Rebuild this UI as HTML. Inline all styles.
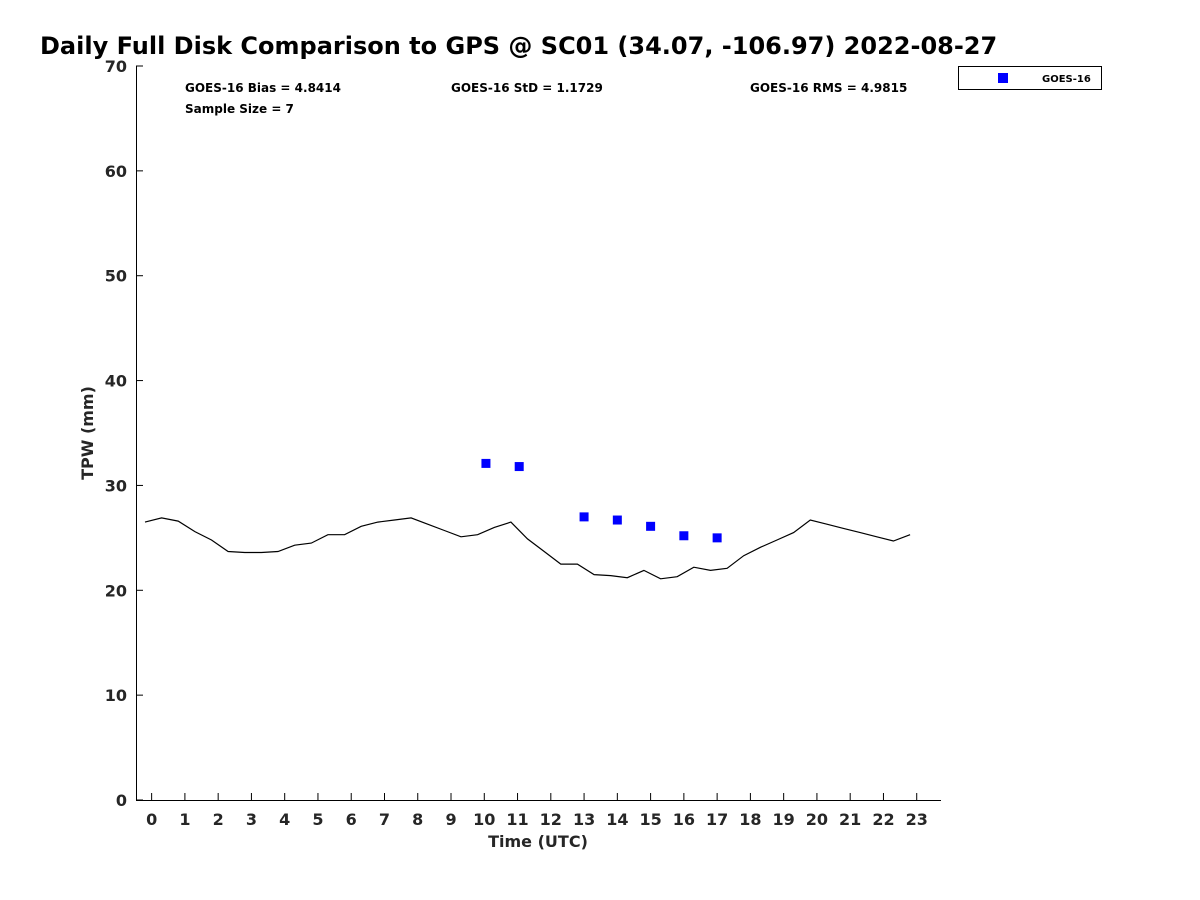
<!DOCTYPE html>
<html><head><meta charset="utf-8"><style>
body{margin:0;background:#fff;}
svg{display:block;font-family:"DejaVu Sans","Liberation Sans",sans-serif;}
</style></head><body>
<svg id="chart" width="1200" height="900">
<text x="40" y="54" font-size="24" font-weight="bold" fill="#000">Daily Full Disk Comparison to GPS @ SC01 (34.07, -106.97) 2022-08-27</text>
<g id="axes"></g>
<g id="marks"></g>
<text x="185" y="92" font-size="12" font-weight="bold" fill="#000">GOES-16 Bias = 4.8414</text>
<text x="451" y="92" font-size="12" font-weight="bold" fill="#000">GOES-16 StD = 1.1729</text>
<text x="750" y="92" font-size="12" font-weight="bold" fill="#000">GOES-16 RMS = 4.9815</text>
<text x="185" y="113" font-size="12" font-weight="bold" fill="#000">Sample Size = 7</text>
<g>
<rect x="958.5" y="66.5" width="143" height="23" fill="#fff" stroke="#000" stroke-width="1"/>
<rect x="998" y="73" width="10" height="10" fill="#0000ff"/>
<text x="1042" y="82" font-size="10" font-weight="bold" fill="#000">GOES-16</text>
</g>
</svg>
<script>
const gpsTimes=[-0.2,0.3,0.8,1.3,1.8,2.3,2.8,3.3,3.8,4.3,4.8,5.3,5.8,6.3,6.8,7.3,7.8,8.3,8.8,9.3,9.8,10.3,10.8,11.3,11.8,12.3,12.8,13.3,13.8,14.3,14.8,15.3,15.8,16.3,16.8,17.3,17.8,18.3,18.8,19.3,19.8,20.3,20.8,21.3,21.8,22.3,22.8];
const gpsValues=[26.5,26.9,26.6,25.6,24.8,23.7,23.6,23.6,23.7,24.3,24.5,25.3,25.3,26.1,26.5,26.7,26.9,26.3,25.7,25.1,25.3,26.0,26.5,24.9,23.7,22.5,22.5,21.5,21.4,21.2,21.9,21.1,21.3,22.2,21.9,22.1,23.3,24.1,24.8,25.5,26.7,26.3,25.9,25.5,25.1,24.7,25.3];
const goesTimes=[10.05,11.05,13,14,15,16,17];
const goesValues=[32.1,31.8,27.0,26.7,26.1,25.2,25.0];
const xTicks=[0,1,2,3,4,5,6,7,8,9,10,11,12,13,14,15,16,17,18,19,20,21,22,23];
const yTicks=[0,10,20,30,40,50,60,70];

const L=136,R=941,T=66,B=800,xMin=-0.47,xMax=23.73,yMin=0,yMax=70;
const X=v=>L+(v-xMin)/(xMax-xMin)*(R-L);
const Y=v=>B-(v-yMin)/(yMax-yMin)*(B-T);
const NS='http://www.w3.org/2000/svg';
function mk(tag,attrs,parent){const e=document.createElementNS(NS,tag);for(const k in attrs)e.setAttribute(k,attrs[k]);parent.appendChild(e);return e;}
const axes=document.getElementById('axes'),marks=document.getElementById('marks');
let e=mk('path',{d:`M${L+0.5},${T}V${B+0.5}H${R}`,fill:'none',stroke:'#000','stroke-width':1},axes);


xTicks.forEach(t=>{
  const x=X(t);
  let l=mk('line',{x1:x,x2:x,y1:B,y2:B-7,stroke:'#000'},axes);
  
  
  let tx=mk('text',{x:x,y:B+25,'text-anchor':'middle','font-size':16,'font-weight':'bold',fill:'#262626'},axes);
  tx.textContent=t;
  
  
});
yTicks.forEach(t=>{
  const y=Y(t);
  let l=mk('line',{x1:L,x2:L+7,y1:y,y2:y,stroke:'#000'},axes);
  
  
  let tx=mk('text',{x:L-9,y:y+6,'text-anchor':'end','font-size':16,'font-weight':'bold',fill:'#262626'},axes);
  tx.textContent=t;
  
  
});
let xt=mk('text',{x:538,y:847,'text-anchor':'middle','font-size':16,'font-weight':'bold',fill:'#262626'},axes);
xt.textContent='Time (UTC)';


let yt=mk('text',{x:0,y:0,'text-anchor':'middle','font-size':16,'font-weight':'bold',fill:'#262626',transform:'translate(93,433) rotate(-90)'},axes);
yt.textContent='TPW (mm)';


const pts=gpsTimes.map((t,i)=>X(t).toFixed(1)+','+Y(gpsValues[i]).toFixed(1)).join(' ');
let pl=mk('polyline',{points:pts,fill:'none',stroke:'#000','stroke-width':1.2},marks);


goesTimes.forEach((t,i)=>{
  let r=mk('rect',{x:X(t)-4.5,y:Y(goesValues[i])-4.5,width:9,height:9,fill:'#0000ff'},marks);
  
  
});
</script>
</body></html>
